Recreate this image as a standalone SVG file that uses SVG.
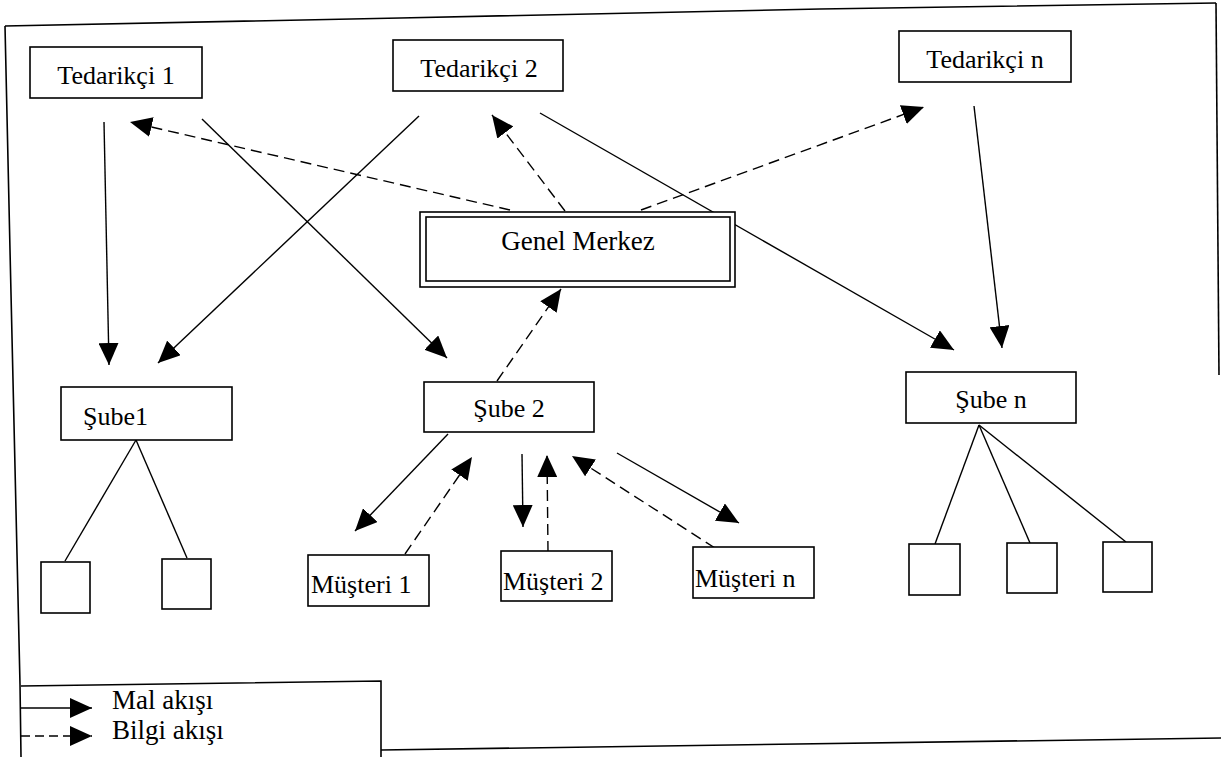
<svg xmlns="http://www.w3.org/2000/svg" width="1221" height="757" viewBox="0 0 1221 757">
<defs>
<marker id="ah" markerUnits="userSpaceOnUse" markerWidth="22" markerHeight="20" refX="22" refY="10" orient="auto">
<path d="M0,0 L22,10 L0,20 z" fill="#000"/>
</marker>
<style>
.box{fill:#fff;stroke:#000;stroke-width:1.6}
.frame{fill:none;stroke:#000;stroke-width:1.6}
.t{font-family:"Liberation Serif","Times New Roman",serif;font-size:26px;fill:#000}
.c{text-anchor:middle}
.s{fill:none;stroke:#000;stroke-width:1.4;marker-end:url(#ah)}
.d{fill:none;stroke:#000;stroke-width:1.4;stroke-dasharray:11 6;marker-end:url(#ah)}
.l{fill:none;stroke:#000;stroke-width:1.4}
</style>
</defs>
<rect width="1221" height="757" fill="#fff"/>
<g id="frame">
<polyline class="frame" points="5,26 400,18 820,9 1216,3"/>
<polyline class="frame" points="5,26 10,250 20,684 21,757"/>
<line class="frame" x1="1216" y1="3" x2="1219" y2="375"/>
<line class="frame" x1="381" y1="750" x2="1221" y2="738"/>
</g>
<g id="connectors">
<line class="s" x1="104" y1="122" x2="109" y2="365"/>
<line class="s" x1="202" y1="119" x2="447" y2="358"/>
<line class="s" x1="419" y1="116" x2="158" y2="363"/>
<line class="s" x1="540" y1="113" x2="954" y2="350"/>
<line class="s" x1="974" y1="106" x2="1002" y2="348"/>
<line class="d" x1="510" y1="210" x2="130" y2="122"/>
<line class="d" x1="565" y1="211" x2="492" y2="115"/>
<line class="d" x1="641" y1="210" x2="924" y2="107"/>
<line class="d" x1="497" y1="381" x2="561" y2="289"/>
<line class="s" x1="448" y1="434" x2="355" y2="531"/>
<line class="d" x1="405" y1="554" x2="472" y2="457"/>
<line class="s" x1="522" y1="454" x2="523" y2="527"/>
<line class="d" x1="548" y1="552" x2="547" y2="455"/>
<line class="d" x1="715" y1="548" x2="572" y2="456"/>
<line class="s" x1="617" y1="453" x2="739" y2="523"/>
<line class="l" x1="136" y1="440" x2="65" y2="561"/>
<line class="l" x1="136" y1="440" x2="187" y2="558"/>
<line class="l" x1="979" y1="425" x2="935" y2="544"/>
<line class="l" x1="979" y1="425" x2="1030" y2="543"/>
<line class="l" x1="979" y1="425" x2="1126" y2="542"/>
</g>
<g id="tedarikci1">
<rect class="box" x="30" y="47" width="172" height="51"/>
<text class="t c" x="116" y="84">Tedarikçi 1</text>
</g>
<g id="tedarikci2">
<rect class="box" x="393" y="40" width="170" height="51"/>
<text class="t c" x="479" y="77">Tedarikçi 2</text>
</g>
<g id="tedarikcin">
<rect class="box" x="899" y="31" width="172" height="51"/>
<text class="t c" x="985" y="68">Tedarikçi n</text>
</g>
<g id="genelmerkez">
<rect class="box" x="420" y="212" width="315" height="75"/>
<rect class="box" x="426" y="217" width="304" height="64"/>
<text class="t c" x="578" y="250" style="font-size:27px">Genel Merkez</text>
</g>
<g id="sube1">
<rect class="box" x="61" y="387" width="171" height="53"/>
<text class="t" x="83" y="425">Şube1</text>
</g>
<g id="sube2">
<rect class="box" x="424" y="382" width="170" height="50"/>
<text class="t c" x="509" y="417">Şube 2</text>
</g>
<g id="suben">
<rect class="box" x="906" y="372" width="170" height="51"/>
<text class="t c" x="991" y="408">Şube n</text>
</g>
<g id="sube1-a"><rect class="box" x="41" y="562" width="49" height="51"/></g>
<g id="sube1-b"><rect class="box" x="162" y="559" width="49" height="50"/></g>
<g id="musteri1">
<rect class="box" x="308" y="555" width="121" height="51"/>
<text class="t" x="311" y="593">Müşteri 1</text>
</g>
<g id="musteri2">
<rect class="box" x="501" y="551" width="111" height="50"/>
<text class="t" x="503" y="590">Müşteri 2</text>
</g>
<g id="musterin">
<rect class="box" x="693" y="547" width="121" height="51"/>
<text class="t" x="695" y="587">Müşteri n</text>
</g>
<g id="suben-a"><rect class="box" x="909" y="544" width="51" height="51"/></g>
<g id="suben-b"><rect class="box" x="1007" y="543" width="50" height="50"/></g>
<g id="suben-c"><rect class="box" x="1103" y="542" width="49" height="50"/></g>
<g id="legend">
<polyline class="frame" points="21,686 381,681 381,757"/>
<line class="s" x1="21" y1="708" x2="92" y2="708"/>
<line class="d" x1="21" y1="736" x2="92" y2="736" style="stroke-dasharray:9 5"/>
<text class="t" x="112" y="709" style="font-size:27px">Mal akışı</text>
<text class="t" x="112" y="739" style="font-size:27px">Bilgi akışı</text>
</g>
</svg>
